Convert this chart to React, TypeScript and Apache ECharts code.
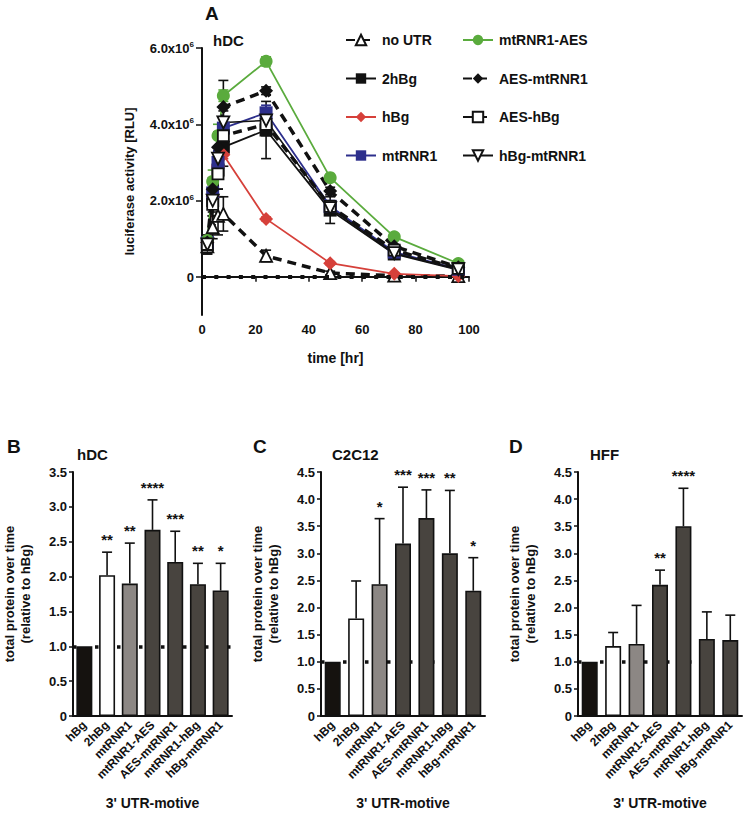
import React, { useEffect, useRef } from "react";
import * as echarts from "echarts";

const FONT = '"Liberation Sans", Arial, Helvetica, sans-serif';

// ---------- Panel A data (values in RLU) ----------
const timePoints = [2, 4, 6, 8, 24, 48, 72, 96];
const noUTR = [0.8e6, 1.3e6, 1.6e6, 1.65e6, 0.55e6, 0.1e6, 0.03e6, 0.02e6];
const hBg2 = [0.85e6, 2.0e6, 2.8e6, 3.4e6, 3.85e6, 1.75e6, 0.6e6, 0.18e6];
const hBgA = [0.9e6, 2.1e6, 2.9e6, 3.2e6, 1.52e6, 0.36e6, 0.08e6, 0.02e6];
const mtRNR1A = [0.9e6, 2.2e6, 3.0e6, 3.9e6, 4.3e6, 1.85e6, 0.65e6, 0.2e6];
const mtRNR1AES = [0.95e6, 2.5e6, 3.7e6, 4.75e6, 5.65e6, 2.6e6, 1.05e6, 0.35e6];
const AESmtRNR1 = [0.9e6, 2.3e6, 3.4e6, 4.45e6, 4.88e6, 2.25e6, 0.8e6, 0.25e6];
const AEShBg = [0.85e6, 1.9e6, 2.7e6, 3.7e6, 4.0e6, 1.85e6, 0.7e6, 0.22e6];
const hBgmtRNR1 = [0.85e6, 2.0e6, 3.1e6, 4.05e6, 4.1e6, 1.8e6, 0.62e6, 0.2e6];

// standard deviations (RLU)
const noUTRErr = [0.2e6, 0.3e6, 0.5e6, 0.45e6, 0.15e6, 0.05e6, 0.02e6, 0.02e6];
const hBg2Err = [0.25e6, 0.4e6, 0.5e6, 0.5e6, 0.75e6, 0.35e6, 0.1e6, 0.08e6];
const hBgAErr = [0.1e6, 0.2e6, 0.2e6, 0.1e6, 0.05e6, 0.04e6, 0.02e6, 0.01e6];
const mtRNR1AErr = [0.1e6, 0.3e6, 0.3e6, 0.3e6, 0.2e6, 0.1e6, 0.05e6, 0.05e6];
const mtRNR1AESErr = [0.1e6, 0.3e6, 0.3e6, 0.15e6, 0.12e6, 0.05e6, 0.04e6, 0.03e6];
const AESmtRNR1Err = [0.15e6, 0.3e6, 0.4e6, 0.7e6, 0.1e6, 0.1e6, 0.05e6, 0.04e6];
const AEShBgErr = [0.15e6, 0.3e6, 0.4e6, 0.3e6, 0.3e6, 0.15e6, 0.05e6, 0.04e6];
const hBgmtRNR1Err = [0.1e6, 0.3e6, 0.3e6, 0.3e6, 0.25e6, 0.1e6, 0.05e6, 0.04e6];

const yTicksA = [0, 2e6, 4e6, 6e6];

// ---------- Bar panels data ----------
const motifs = ["hBg", "2hBg", "mtRNR1", "mtRNR1-AES", "AES-mtRNR1", "mtRNR1-hBg", "hBg-mtRNR1"];

const hdcValues = [1.0, 2.02, 1.9, 2.67, 2.21, 1.89, 1.8];
const hdcErrTop = [1.0, 2.35, 2.48, 3.1, 2.65, 2.19, 2.19];
const hdcStars = ["", "**", "**", "****", "***", "**", "*"];

const c2c12Values = [1.0, 1.8, 2.43, 3.18, 3.65, 3.0, 2.31];
const c2c12ErrTop = [1.0, 2.49, 3.64, 4.22, 4.17, 4.16, 2.92];
const c2c12Stars = ["", "", "*", "***", "***", "**", "*"];

const hffValues = [1.0, 1.29, 1.33, 2.42, 3.5, 1.42, 1.4];
const hffErrTop = [1.0, 1.54, 2.04, 2.69, 4.2, 1.92, 1.86];
const hffStars = ["", "", "", "**", "****", "", ""];

const barColors = ["#15120f", "#ffffff", "#8c8784", "#48443f", "#48443f", "#48443f", "#48443f"];

export default function App() {
  const ref = useRef<HTMLDivElement>(null);

  useEffect(() => {
    if (!ref.current) return;
    const chart = echarts.init(ref.current, null, { renderer: "svg" });

    const boldText = { fontFamily: FONT, fontWeight: "bold" as const, color: "#111" };

    type LineDef = {
      name: string;
      data: number[];
      err: number[];
      color: string;
      dashed: boolean;
      width: number;
      symbol: string;
      symbolSize: number;
      fill: string;
    };
    const downTri = "path://M0,0 L12,0 L6,10 Z";
    const lines: LineDef[] = [
      { name: "no UTR", data: noUTR, err: noUTRErr, color: "#111", dashed: true, width: 3.5, symbol: "triangle", symbolSize: 12, fill: "#fff" },
      { name: "2hBg", data: hBg2, err: hBg2Err, color: "#111", dashed: false, width: 1.8, symbol: "rect", symbolSize: 13, fill: "#111" },
      { name: "hBg", data: hBgA, err: hBgAErr, color: "#d6403a", dashed: false, width: 1.8, symbol: "diamond", symbolSize: 14, fill: "#d6403a" },
      { name: "mtRNR1", data: mtRNR1A, err: mtRNR1AErr, color: "#2d2f8c", dashed: false, width: 1.8, symbol: "rect", symbolSize: 13, fill: "#2d2f8c" },
      { name: "mtRNR1-AES", data: mtRNR1AES, err: mtRNR1AESErr, color: "#5aab3d", dashed: false, width: 1.8, symbol: "circle", symbolSize: 13, fill: "#5aab3d" },
      { name: "AES-mtRNR1", data: AESmtRNR1, err: AESmtRNR1Err, color: "#111", dashed: true, width: 3.5, symbol: "diamond", symbolSize: 14, fill: "#111" },
      { name: "AES-hBg", data: AEShBg, err: AEShBgErr, color: "#111", dashed: true, width: 3.5, symbol: "rect", symbolSize: 11, fill: "#fff" },
      { name: "hBg-mtRNR1", data: hBgmtRNR1, err: hBgmtRNR1Err, color: "#111", dashed: false, width: 1.5, symbol: downTri, symbolSize: 12, fill: "#fff" },
    ];

    const series: any[] = [];

    lines.forEach((l, idx) => {
      series.push({
        type: "line",
        name: l.name,
        xAxisIndex: 0,
        yAxisIndex: 0,
        data: timePoints.map((t, i) => [t, l.data[i]]),
        symbol: l.symbol,
        symbolSize: l.symbolSize,
        showAllSymbol: true,
        lineStyle: { color: l.color, width: l.width, type: l.dashed ? [9, 6] : "solid" },
        itemStyle: { color: l.fill, borderColor: l.color, borderWidth: l.fill === "#fff" ? 1.8 : 0 },
        z: 3,
        markLine:
          idx === 0
            ? {
                silent: true,
                symbol: "none",
                label: { show: false },
                lineStyle: { color: "#111", type: [4, 8.3], width: 4 },
                data: [{ yAxis: 0 }],
              }
            : undefined,
      });
      series.push({
        type: "custom",
        name: l.name + " err",
        xAxisIndex: 0,
        yAxisIndex: 0,
        data: timePoints.map((t, i) => [t, l.data[i], l.err[i]]),
        z: 2,
        renderItem: (params: any, api: any) => {
          const t = api.value(0);
          const v = api.value(1);
          const e = api.value(2);
          const pHi = api.coord([t, v + e]);
          const pLo = api.coord([t, v - e]);
          const c = l.color;
          const w = 5;
          return {
            type: "group",
            children: [
              { type: "line", shape: { x1: pHi[0], y1: pHi[1], x2: pLo[0], y2: pLo[1] }, style: { stroke: c, lineWidth: 1.6 } },
              { type: "line", shape: { x1: pHi[0] - w, y1: pHi[1], x2: pHi[0] + w, y2: pHi[1] }, style: { stroke: c, lineWidth: 1.6 } },
              { type: "line", shape: { x1: pLo[0] - w, y1: pLo[1], x2: pLo[0] + w, y2: pLo[1] }, style: { stroke: c, lineWidth: 1.6 } },
            ],
          };
        },
      });
    });

    // ---------- bar panels ----------
    const panels = [
      { values: hdcValues, err: hdcErrTop, stars: hdcStars, max: 3.5 },
      { values: c2c12Values, err: c2c12ErrTop, stars: c2c12Stars, max: 4.5 },
      { values: hffValues, err: hffErrTop, stars: hffStars, max: 4.5 },
    ];

    panels.forEach((p, k) => {
      const ax = k + 2;
      series.push({
        type: "bar",
        xAxisIndex: ax,
        yAxisIndex: ax,
        barWidth: 16,
        data: p.values.map((v, i) => ({
          value: v,
          itemStyle: { color: barColors[i], borderColor: "#111", borderWidth: 1.6 },
        })),
        z: 3,
        markLine: {
          silent: true,
          symbol: "none",
          label: { show: false },
          lineStyle: { color: "#111", type: [3.5, 18.5], width: 3.5 },
          data: [{ yAxis: 1 }],
          z: 2,
        },
      });
      series.push({
        type: "custom",
        xAxisIndex: ax,
        yAxisIndex: ax,
        z: 4,
        data: p.values.map((v, i) => [i, v, p.err[i]]),
        renderItem: (params: any, api: any) => {
          const i = api.value(0);
          const v = api.value(1);
          const e = api.value(2);
          const s = p.stars[params.dataIndex];
          const p0 = api.coord([i, v]);
          const p1 = api.coord([i, e]);
          const children: any[] = [];
          if (e > v) {
            children.push({ type: "line", shape: { x1: p0[0], y1: p0[1], x2: p1[0], y2: p1[1] }, style: { stroke: "#111", lineWidth: 1.6 } });
            children.push({ type: "line", shape: { x1: p1[0] - 5, y1: p1[1], x2: p1[0] + 5, y2: p1[1] }, style: { stroke: "#111", lineWidth: 1.6 } });
          }
          if (s) {
            children.push({
              type: "text",
              style: {
                text: s,
                x: p1[0],
                y: p1[1] - 5,
                align: "center",
                verticalAlign: "bottom",
                fontFamily: FONT,
                fontWeight: "bold",
                fontSize: 15,
                fill: "#111",
              },
            });
          }
          return { type: "group", children };
        },
      });
    });

    const barGrid = (left: number) => ({ left, top: 472, width: 164, height: 244 });

    const barX = (gridIndex: number) => ({
      type: "category" as const,
      gridIndex,
      data: motifs,
      axisLine: { lineStyle: { color: "#111", width: 2 } },
      axisTick: { alignWithLabel: true, length: 4, lineStyle: { color: "#111", width: 1.5 } },
      axisLabel: { ...boldText, fontSize: 12, rotate: 45, interval: 0, margin: 7 },
      name: "3' UTR-motive",
      nameLocation: "middle" as const,
      nameGap: 80,
      nameTextStyle: { ...boldText, fontSize: 14 },
    });

    const barY = (gridIndex: number, max: number) => ({
      type: "value" as const,
      gridIndex,
      min: 0,
      max,
      interval: 0.5,
      splitLine: { show: false },
      axisLine: { show: true, lineStyle: { color: "#111", width: 2 } },
      axisTick: { show: true, length: 4, lineStyle: { color: "#111", width: 1.5 } },
      axisLabel: { ...boldText, fontSize: 13, margin: 6, formatter: (v: number) => (v === 0 ? "0" : v.toFixed(1)) },
      name: "total protein over time\n(relative to hBg)",
      nameLocation: "middle" as const,
      nameGap: 40,
      nameTextStyle: { ...boldText, fontSize: 13, lineHeight: 16 },
    });

    const option: any = {
      animation: false,
      backgroundColor: "#fff",
      textStyle: { fontFamily: FONT },
      legend: [
        {
          left: 340,
          top: 28,
          orient: "vertical",
          itemWidth: 30,
          itemHeight: 13,
          itemGap: 24.5,
          textStyle: { ...boldText, fontSize: 14, padding: [0, 0, 0, 1] },
          data: ["no UTR", "2hBg", "hBg", "mtRNR1"],
        },
        {
          left: 457,
          top: 28,
          orient: "vertical",
          itemWidth: 30,
          itemHeight: 13,
          itemGap: 24.5,
          textStyle: { ...boldText, fontSize: 14, padding: [0, 0, 0, 1] },
          data: ["mtRNR1-AES", "AES-mtRNR1", "AES-hBg", "hBg-mtRNR1"],
        },
      ],
      grid: [
        { left: 202, top: 48, width: 267, height: 267 },
        { left: 202, top: 48, width: 267, height: 229 },
        barGrid(68),
        barGrid(321),
        barGrid(578),
      ],
      xAxis: [
        {
          type: "value",
          gridIndex: 0,
          min: 0,
          max: 100,
          interval: 20,
          splitLine: { show: false },
          axisLine: { lineStyle: { color: "#111", width: 2 } },
          axisTick: { length: 5, lineStyle: { color: "#111", width: 1.5 } },
          axisLabel: { ...boldText, fontSize: 13, margin: 8 },
          name: "time [hr]",
          nameLocation: "middle",
          nameGap: 36,
          nameTextStyle: { ...boldText, fontSize: 14 },
        },
        { type: "value", gridIndex: 1, min: 0, max: 100, show: false },
        barX(2),
        barX(3),
        barX(4),
      ],
      yAxis: [
        {
          type: "value",
          gridIndex: 0,
          min: -1e6,
          max: 6e6,
          splitLine: { show: false },
          axisLine: { show: true, lineStyle: { color: "#111", width: 2 } },
          axisTick: { show: false },
          axisLabel: { show: false },
          name: "luciferase activity [RLU]",
          nameLocation: "middle",
          nameGap: 66,
          nameTextStyle: { ...boldText, fontSize: 13 },
        },
        {
          type: "value",
          gridIndex: 1,
          min: yTicksA[0],
          max: yTicksA[yTicksA.length - 1],
          interval: yTicksA[1] - yTicksA[0],
          splitLine: { show: false },
          axisLine: { show: false },
          axisTick: { show: true, length: 6, lineStyle: { color: "#111", width: 1.5 } },
          axisLabel: {
            margin: 8,
            formatter: (v: number) => (v === 0 ? "{b|0}" : `{b|${(v / 1e6).toFixed(1)}x10}{s|6}`),
            rich: {
              b: { ...boldText, fontSize: 13 },
              s: { ...boldText, fontSize: 8, verticalAlign: "top", padding: [0, 0, 7, 0] },
            },
          },
        },
        barY(2, 3.5),
        barY(3, 4.5),
        barY(4, 4.5),
      ],
      graphic: [
        { type: "text", left: 205, top: 4, style: { text: "A", ...boldText, fill: "#111", fontSize: 19 } },
        { type: "text", left: 213, top: 33, style: { text: "hDC", ...boldText, fill: "#111", fontSize: 15 } },
        { type: "text", left: 7, top: 437, style: { text: "B", ...boldText, fill: "#111", fontSize: 19 } },
        { type: "text", left: 77, top: 447, style: { text: "hDC", ...boldText, fill: "#111", fontSize: 15 } },
        { type: "text", left: 253, top: 437, style: { text: "C", ...boldText, fill: "#111", fontSize: 19 } },
        { type: "text", left: 332, top: 447, style: { text: "C2C12", ...boldText, fill: "#111", fontSize: 15 } },
        { type: "text", left: 509, top: 437, style: { text: "D", ...boldText, fill: "#111", fontSize: 19 } },
        { type: "text", left: 590, top: 447, style: { text: "HFF", ...boldText, fill: "#111", fontSize: 15 } },
      ],
      series,
    };

    chart.setOption(option);
    return () => chart.dispose();
  }, []);

  return <div ref={ref} style={{ position: "absolute", left: 0, top: 0, width: 744, height: 817 }} />;
}
